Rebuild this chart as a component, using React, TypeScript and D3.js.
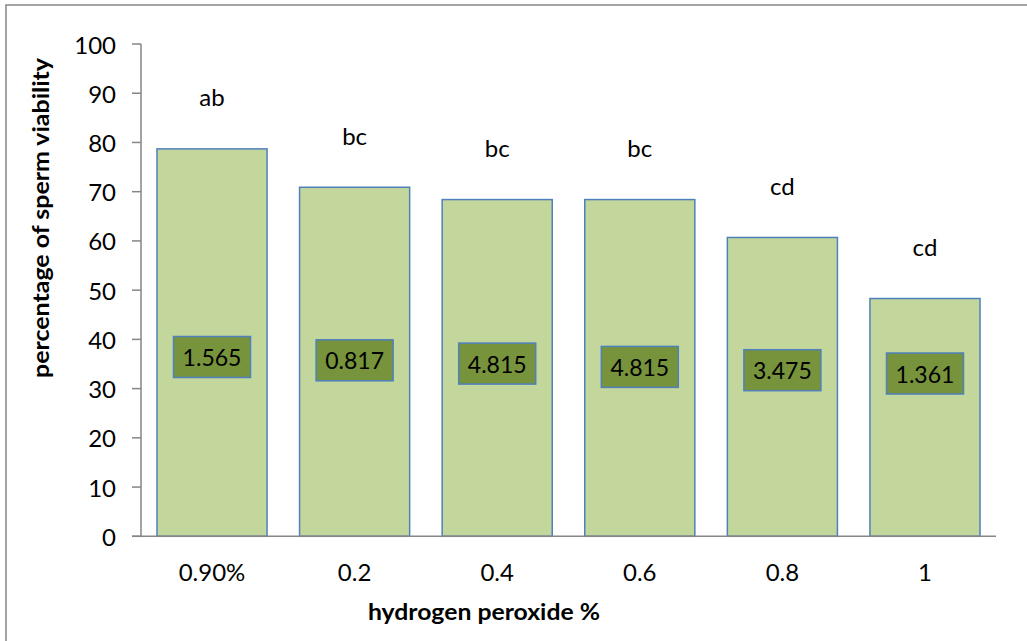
import React from "react";
import * as d3 from "d3";

// Sperm viability by hydrogen peroxide concentration
const categories: string[] = ["0.90%", "0.2", "0.4", "0.6", "0.8", "1"];
const viability: number[] = [78.7, 70.9, 68.4, 68.4, 60.7, 48.3];
const groupLetters: string[] = ["ab", "bc", "bc", "bc", "cd", "cd"];
const boxValues: string[] = ["1.565", "0.817", "4.815", "4.815", "3.475", "1.361"];
const yTicks: number[] = [0, 10, 20, 30, 40, 50, 60, 70, 80, 90, 100];

const W = 1027;
const H = 641;
const FONT = "Lato, 'Open Sans', sans-serif";

export default function App() {
  const x = d3
    .scaleBand<string>()
    .domain(categories)
    .range([141, 996])
    .paddingInner(0.228)
    .paddingOuter(0.112);
  const y = d3.scaleLinear().domain([0, 100]).range([536.3, 44]);
  const axisColor = "#868686";
  const blue = "#4F81BD";

  return (
    <div style={{ position: "absolute", left: 0, top: 0 }}>
      <svg width={W} height={H} style={{ display: "block", background: "#fff" }}>
        {/* outer chart frame */}
        <rect x={6} y={5} width={W + 10} height={H + 10} fill="#fff" stroke={axisColor} strokeWidth={1.5} />

        {/* bars */}
        {categories.map((c, i) => (
          <rect
            key={c}
            x={x(c)!}
            y={y(viability[i])}
            width={x.bandwidth()}
            height={y(0) - y(viability[i])}
            fill="#C3D69B"
            stroke={blue}
            strokeWidth={1.5}
          />
        ))}

        {/* y axis */}
        <line x1={141} x2={141} y1={y(100)} y2={y(0)} stroke={axisColor} strokeWidth={1.5} />
        {yTicks.map((t) => (
          <g key={t}>
            <line x1={132} x2={141} y1={y(t)} y2={y(t)} stroke={axisColor} strokeWidth={1.5} />
            <text
              x={116}
              y={y(t)}
              textAnchor="end"
              dominantBaseline="central"
              fontFamily={FONT}
              fontSize={24}
              fill="#000"
            >
              {t}
            </text>
          </g>
        ))}

        {/* x axis */}
        <line x1={132} x2={996} y1={y(0)} y2={y(0)} stroke={axisColor} strokeWidth={1.5} />
        {categories.map((c) => (
          <text
            key={c}
            x={x(c)! + x.bandwidth() / 2}
            y={571}
            textAnchor="middle"
            dominantBaseline="central"
            fontFamily={FONT}
            fontSize={24}
            fill="#000"
          >
            {c}
          </text>
        ))}

        {/* significance letters */}
        {categories.map((c, i) => (
          <text
            key={"l" + c}
            x={x(c)! + x.bandwidth() / 2}
            y={y(viability[i]) - 52}
            textAnchor="middle"
            dominantBaseline="central"
            fontFamily={FONT}
            fontSize={24}
            fill="#000"
          >
            {groupLetters[i]}
          </text>
        ))}

        {/* value boxes */}
        {categories.map((c, i) => {
          const cx = x(c)! + x.bandwidth() / 2;
          const cy = 357 + i * 3.3;
          return (
            <g key={"b" + c}>
              <rect x={cx - 38.5} y={cy - 20.5} width={77} height={41} fill="#77933C" stroke={blue} strokeWidth={1.5} />
              <text
                x={cx}
                y={cy}
                textAnchor="middle"
                dominantBaseline="central"
                fontFamily={FONT}
                fontSize={23}
                fill="#000"
              >
                {boxValues[i]}
              </text>
            </g>
          );
        })}

        {/* axis titles */}
        <text
          x={484}
          y={611}
          textAnchor="middle"
          dominantBaseline="central"
          fontFamily={FONT}
          fontWeight="bold"
          fontSize={23}
          textLength={232}
          lengthAdjust="spacingAndGlyphs"
          fill="#000"
        >
          hydrogen peroxide %
        </text>
        <text
          transform={`translate(40,218) rotate(-90)`}
          textAnchor="middle"
          dominantBaseline="central"
          fontFamily={FONT}
          fontWeight="bold"
          fontSize={23}
          textLength={320}
          lengthAdjust="spacingAndGlyphs"
          fill="#000"
        >
          percentage of sperm viability
        </text>
      </svg>
    </div>
  );
}
